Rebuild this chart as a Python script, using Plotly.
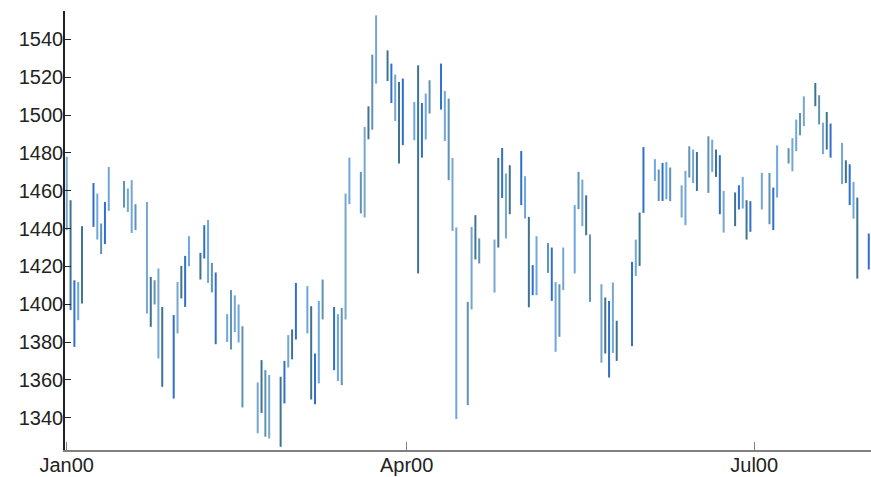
import pandas as pd
import plotly.graph_objects as go

# Trading days Jan 3 - Jul 31, 2000 (NYSE holidays removed)
holidays = ["2000-01-17", "2000-02-21", "2000-04-21", "2000-05-29", "2000-07-04"]
dates = [d for d in pd.bdate_range("2000-01-03", "2000-07-31") if d.strftime("%Y-%m-%d") not in holidays]

highs = [
    1478.0, 1455.0, 1412.7, 1411.8, 1441.3, 1464.1, 1458.5, 1442.7, 1454.1, 1472.6,
    1465.2, 1461.2, 1465.6, 1452.9, 1454.1, 1414.5, 1412.7, 1418.9, 1398.6, 1394.3,
    1411.8, 1420.3, 1425.6, 1436.0, 1427.2, 1441.8, 1444.5, 1421.9, 1416.8, 1394.8,
    1407.5, 1404.7, 1399.9, 1388.4, 1358.7, 1370.5, 1365.2, 1362.6, 1361.7, 1370.1,
    1383.7, 1386.7, 1411.3, 1409.6, 1399.0, 1374.0, 1401.8, 1413.1, 1398.6, 1394.8,
    1398.1, 1458.5, 1477.5, 1470.0, 1493.7, 1504.6, 1531.9, 1552.7, 1534.2, 1527.2,
    1521.4, 1517.5, 1519.3, 1506.9, 1526.3, 1506.4, 1511.4, 1518.4, 1527.2, 1512.7,
    1508.7, 1477.3, 1440.6, 1401.3, 1440.9, 1447.1, 1434.8, 1434.2, 1477.4, 1482.6,
    1469.1, 1473.5, 1481.0, 1467.7, 1446.2, 1420.7, 1436.0, 1432.4, 1430.0, 1411.8,
    1410.6, 1430.0, 1452.4, 1470.0, 1465.9, 1457.6, 1436.9, 1410.6, 1403.6, 1401.8,
    1411.5, 1391.3, 1422.4, 1434.2, 1448.5, 1483.1, 1476.7, 1471.2, 1474.7, 1475.2,
    1472.3, 1462.9, 1470.5, 1483.5, 1481.8, 1480.5, 1488.8, 1487.0, 1481.8, 1478.8,
    1459.9, 1459.1, 1462.9, 1467.3, 1455.0, 1454.5, 1469.4, 1469.4, 1461.7, 1484.0,
    1482.5, 1487.8, 1497.6, 1501.1, 1509.9, 1517.0, 1510.5, 1496.0, 1501.6, 1495.5,
    1485.3, 1476.1, 1474.0, 1464.7, 1456.4, 1437.4,
]
lows = [
    1439.2, 1396.9, 1377.5, 1391.6, 1400.4, 1440.9, 1434.2, 1426.5, 1431.8, 1449.4,
    1451.1, 1448.8, 1437.7, 1439.2, 1395.1, 1388.1, 1399.9, 1371.4, 1356.4, 1350.2,
    1384.6, 1403.1, 1398.6, 1420.1, 1413.1, 1424.2, 1411.3, 1406.3, 1378.9, 1380.1,
    1376.1, 1385.3, 1379.8, 1345.5, 1331.8, 1342.6, 1330.0, 1329.1, 1324.7, 1347.6,
    1366.6, 1370.9, 1381.4, 1384.6, 1349.7, 1347.2, 1358.2, 1392.0, 1365.2, 1359.5,
    1357.3, 1392.0, 1452.9, 1448.0, 1445.9, 1487.2, 1492.3, 1516.6, 1518.0, 1506.4,
    1496.9, 1474.4, 1484.1, 1486.7, 1416.3, 1477.5, 1487.1, 1500.8, 1502.9, 1486.3,
    1465.6, 1438.8, 1339.4, 1346.7, 1397.3, 1423.7, 1421.6, 1406.2, 1430.0, 1456.2,
    1434.8, 1447.6, 1452.4, 1445.3, 1398.4, 1404.8, 1404.8, 1416.6, 1401.8, 1374.9,
    1382.8, 1407.5, 1416.3, 1450.3, 1441.3, 1436.5, 1401.3, 1369.1, 1374.0, 1361.3,
    1374.3, 1370.1, 1377.9, 1415.0, 1420.3, 1448.3, 1465.2, 1454.6, 1454.6, 1455.5,
    1454.5, 1445.9, 1441.8, 1467.0, 1464.1, 1459.9, 1458.9, 1470.0, 1467.3, 1447.6,
    1437.9, 1441.3, 1450.1, 1450.6, 1434.2, 1438.3, 1450.1, 1442.3, 1439.2, 1456.4,
    1474.4, 1470.3, 1480.9, 1489.3, 1494.1, 1504.7, 1495.1, 1479.3, 1481.8, 1477.5,
    1463.5, 1464.1, 1452.4, 1445.3, 1413.6, 1418.4,
]

y_ticks = list(range(1340, 1541, 20))
x_tick_vals = ["2000-01-03", "2000-04-01", "2000-07-01"]
x_tick_text = ["Jan00", "Apr00", "Jul00"]

palette = ["#74a6d0", "#2f6fcf", "#5d93b4", "#3f7392", "#6ea6e0"]

groups = {c: ([], []) for c in palette}
for i, (d, h, l) in enumerate(zip(dates, highs, lows)):
    c = palette[(i * 3 + i // 4) % len(palette)]
    xs, ys = groups[c]
    xs += [d, d, None]
    ys += [l, h, None]

fig = go.Figure()
for c, (xs, ys) in groups.items():
    fig.add_trace(go.Scatter(x=xs, y=ys, mode="lines",
                             line=dict(color=c, width=2),
                             hoverinfo="skip", showlegend=False))

font = dict(family="Liberation Sans, Arial, sans-serif", size=20, color="#222222")
fig.update_layout(
    width=871, height=477,
    margin=dict(l=65, r=0, t=11, b=27, autoexpand=False),
    paper_bgcolor="white", plot_bgcolor="white",
    font=font,
    showlegend=False,
)
fig.update_xaxes(
    type="date",
    range=["2000-01-02 13:00", "2000-07-31 14:00"],
    tickvals=x_tick_vals, ticktext=x_tick_text,
    ticks="inside", ticklen=8, tickwidth=1, tickcolor="#808080",
    showline=True, linecolor="#808080", linewidth=1.5,
    showgrid=False, zeroline=False, automargin=False,
    ticklabelstandoff=-4,
)
fig.update_yaxes(
    range=[1323, 1555],
    tickvals=y_ticks,
    ticks="inside", ticklen=6, tickwidth=1, tickcolor="#222222",
    showline=True, linecolor="#222222", linewidth=1.5,
    showgrid=False, zeroline=False, automargin=False,
    ticklabelstandoff=-4,
)

fig.write_html(
    "out.html",
    config={"responsive": False, "displayModeBar": False},
    post_script="document.body.style.margin='0px'; document.body.style.overflow='hidden';",
)
